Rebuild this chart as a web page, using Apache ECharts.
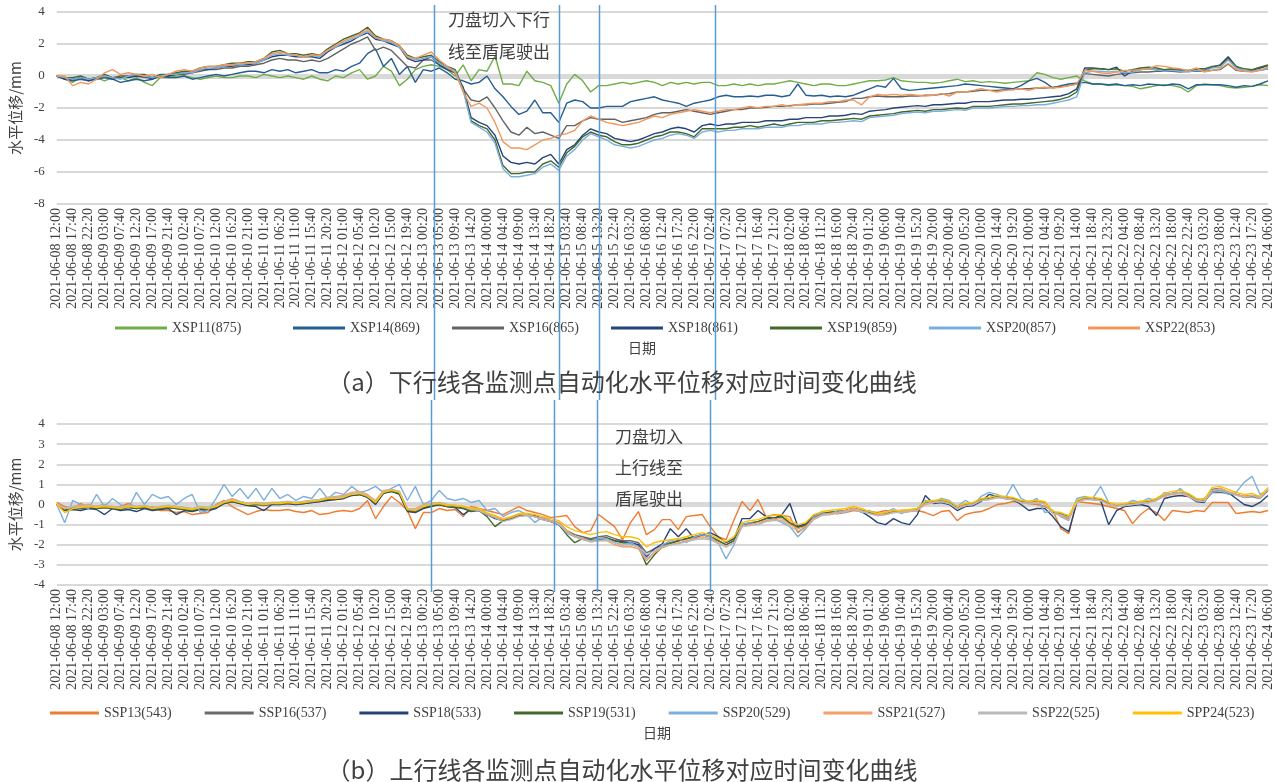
<!DOCTYPE html>
<html>
<head>
<meta charset="utf-8">
<title>水平位移对应时间变化曲线</title>
<script src="https://cdn.jsdelivr.net/npm/echarts@6/dist/echarts.min.js"></script>
<style>
  html, body { margin: 0; padding: 0; background: #fff; }
  #chart { width: 1275px; height: 782px; }
</style>
</head>
<body>
<div id="chart"></div>
<script>
// x labels, one per 14 records; values below are read at half-label steps
var labels = [
  "2021-06-08 12:00", "2021-06-08 17:40", "2021-06-08 22:20", "2021-06-09 03:00", "2021-06-09 07:40",
  "2021-06-09 12:20", "2021-06-09 17:00", "2021-06-09 21:40", "2021-06-10 02:40", "2021-06-10 07:20",
  "2021-06-10 12:00", "2021-06-10 16:20", "2021-06-10 21:00", "2021-06-11 01:40", "2021-06-11 06:20",
  "2021-06-11 11:00", "2021-06-11 15:40", "2021-06-11 20:20", "2021-06-12 01:00", "2021-06-12 05:40",
  "2021-06-12 10:20", "2021-06-12 15:00", "2021-06-12 19:40", "2021-06-13 00:20", "2021-06-13 05:00",
  "2021-06-13 09:40", "2021-06-13 14:20", "2021-06-14 00:00", "2021-06-14 04:40", "2021-06-14 09:00",
  "2021-06-14 13:40", "2021-06-14 18:20", "2021-06-15 03:40", "2021-06-15 08:40", "2021-06-15 13:20",
  "2021-06-15 22:40", "2021-06-16 03:20", "2021-06-16 08:00", "2021-06-16 12:40", "2021-06-16 17:20",
  "2021-06-16 22:00", "2021-06-17 02:40", "2021-06-17 07:20", "2021-06-17 12:00", "2021-06-17 16:40",
  "2021-06-17 21:20", "2021-06-18 02:00", "2021-06-18 06:40", "2021-06-18 11:20", "2021-06-18 16:00",
  "2021-06-18 20:40", "2021-06-19 01:20", "2021-06-19 06:00", "2021-06-19 10:40", "2021-06-19 15:20",
  "2021-06-19 20:00", "2021-06-20 00:40", "2021-06-20 05:20", "2021-06-20 10:00", "2021-06-20 14:40",
  "2021-06-20 19:20", "2021-06-21 00:00", "2021-06-21 04:40", "2021-06-21 09:20", "2021-06-21 14:00",
  "2021-06-21 18:40", "2021-06-21 23:20", "2021-06-22 04:00", "2021-06-22 08:40", "2021-06-22 13:20",
  "2021-06-22 18:00", "2021-06-22 22:40", "2021-06-23 03:20", "2021-06-23 08:00", "2021-06-23 12:40",
  "2021-06-23 17:20", "2021-06-24 06:00"
];
var STEP = 0.5;

// (a) 下行线
var xsp11 = [
  0, -0.2, -0.4, -0.1, -0.2, -0.1, -0.3, -0.1, -0.1, -0.3, -0.1, -0.4, -0.6, -0.1, -0.1, 0, 0,
  -0.1, -0.2, -0.1, 0, -0.1, -0.1, 0, 0, -0.1, 0.1, 0, -0.1, 0, -0.1, -0.2, 0, -0.2, -0.3, 0, -0.1, 0.2, 0.4, -0.2,
  0.0, 0.6, 0.3, -0.6, -0.2, 0.4, 0.6, 0.7,
  0.6, 0.4, 0.0, 0.7, -0.3, 0.4, 0.3, 1.25, -0.5, -0.5,
  -0.6, 0.3, -0.3, -0.4, -0.6, -1.7, -0.5, 0.1, -0.3, -1.0,
  -0.6, -0.6, -0.5, -0.4, -0.5, -0.4, -0.3, -0.4, -0.6, -0.4,
  -0.5, -0.4, -0.5, -0.4, -0.4, -0.6, -0.6, -0.5, -0.6, -0.5,
  -0.6, -0.5, -0.5, -0.4, -0.3, -0.4, -0.5, -0.6, -0.5, -0.5,
  -0.6, -0.6,
  -0.5, -0.4, -0.3, -0.3, -0.25, -0.1, -0.3, -0.35, -0.4, -0.4,
  -0.45, -0.4, -0.3, -0.2, -0.35, -0.3, -0.4, -0.35, -0.4, -0.45,
  -0.4, -0.35, -0.3, 0.2, 0.1, -0.1, -0.2, -0.1, 0.0, -0.3,
  -0.5, -0.5, -0.6, -0.55, -0.6, -0.65, -0.8, -0.7, -0.6, -0.55,
  -0.6, -0.7, -1.0, -0.6, -0.5, -0.55, -0.6, -0.7, -0.75, -0.7,
  -0.65, -0.55, -0.6
];
var xsp14 = [
  0, -0.2, -0.3, -0.2, -0.3, -0.2, -0.1, -0.2, -0.4, -0.3, -0.2, -0.3, -0.2, 0, -0.1, -0.1, 0,
  -0.2, -0.1, 0, 0.1, 0, 0.1, 0.2, 0.3, 0.3, 0.2, 0.4, 0.3, 0.4, 0.2, 0.3, 0.4, 0.2, 0.2, 0.4, 0.3, 0.6, 0.8, 1.4,
  1.7, 0.6, 1.1, 0.1, 0.6, -0.4, 0.4, 0.3,
  0.5, 0.2, -0.2, -0.3, -0.5, -0.4, 0.0, -0.8, -1.3, -1.9,
  -2.4, -2.2, -1.5, -2.3, -2.3, -2.9, -1.7, -1.5, -1.6, -2.0,
  -2.0, -1.9, -1.9, -1.9, -1.6, -1.5, -1.4, -1.3, -1.5, -1.6,
  -1.7, -1.9, -1.7, -1.6, -1.5, -1.3, -1.2, -1.3, -1.3, -1.25,
  -1.3, -1.2, -1.2, -1.3, -1.2, -0.5, -1.2, -1.25, -1.2, -1.3,
  -1.25, -1.3,
  -1.2, -1.0, -0.8, -0.6, -0.7, -0.15, -0.8, -0.9, -0.85, -0.8,
  -0.75, -0.7, -0.65, -0.6, -0.5, -0.55, -0.6, -0.65, -0.7, -0.75,
  -0.8, -0.6, -0.3, -0.15, -0.4, -0.75, -0.6, -0.5, -0.45, -0.4,
  -0.5, -0.5, -0.55, -0.5, -0.6, -0.55, -0.6, -0.5, -0.55, -0.6,
  -0.5, -0.55, -0.8, -0.55, -0.55, -0.55, -0.55, -0.6, -0.7, -0.6,
  -0.65, -0.5, -0.3
];
var xsp16 = [
  0, -0.1, -0.2, -0.1, -0.2, -0.1, -0.1, -0.1, 0, 0, 0, -0.1, -0.1, 0, 0, 0.1, 0.1,
  0.2, 0.3, 0.4, 0.4, 0.5, 0.5, 0.6, 0.6, 0.7, 0.8, 1.0, 1.1, 1.0, 1.0, 0.9, 1.0, 0.9, 1.1, 1.4, 1.7, 2.0, 2.2, 2.45,
  1.6, 1.8, 1.6, 1.1, 0.6, 0.5, 1.0, 1.0,
  0.7, 0.5, 0.2, -0.8, -1.5, -1.6, -1.3, -2.0, -2.8, -3.5,
  -3.7, -3.2, -3.6, -3.5, -3.7, -3.9, -3.1, -3.1, -2.8, -2.6,
  -2.7, -2.7, -2.7, -2.9, -2.8, -2.7, -2.6, -2.4, -2.3, -2.3,
  -2.2, -2.1, -2.2, -2.3, -2.4, -2.3, -2.2, -2.1, -2.1, -2.0,
  -2.0, -1.95, -1.9, -1.9, -1.85, -1.8, -1.8, -1.75, -1.75, -1.7,
  -1.65, -1.6,
  -1.4, -1.4, -1.3, -1.25, -1.3, -1.3, -1.3, -1.25, -1.25, -1.2,
  -1.2, -1.15, -1.1, -1.0, -1.0, -0.95, -0.9, -0.9, -0.9, -0.85,
  -0.85, -0.8, -0.8, -0.75, -0.75, -0.7, -0.65, -0.6, -0.5, 0.15,
  0.1, 0.05, 0.0, 0.1, 0.15, 0.2, 0.25, 0.25, 0.3, 0.3,
  0.3, 0.25, 0.3, 0.3, 0.3, 0.35, 0.4, 0.75, 0.35, 0.3,
  0.3, 0.35, 0.45
];
var xsp18 = [
  0, -0.2, -0.2, -0.1, -0.3, -0.1, 0, -0.2, -0.1, -0.1, 0, 0, -0.2, 0, 0, 0.1, 0.2,
  0.2, 0.4, 0.4, 0.5, 0.6, 0.6, 0.7, 0.7, 0.8, 1.0, 1.2, 1.3, 1.3, 1.2, 1.2, 1.2, 1.1, 1.5, 1.8, 2.0, 2.2, 2.5, 2.7,
  2.3, 2.2, 2.0, 1.8, 1.1, 0.9, 1.0, 1.2,
  0.7, 0.4, 0.2, -0.7, -2.6, -2.9, -3.1, -3.7, -5.0, -5.4,
  -5.5, -5.4, -5.5, -5.1, -4.9, -5.5, -4.6, -4.3, -3.7, -3.3,
  -3.5, -3.6, -3.9, -4.0, -4.1, -4.0, -3.8, -3.6, -3.5, -3.3,
  -3.2, -3.3, -3.5, -3.1, -3.0, -3.1, -3.0, -3.0, -2.9, -2.9,
  -2.9, -2.8, -2.8, -2.8, -2.7, -2.7, -2.6, -2.6, -2.6, -2.5,
  -2.5, -2.45,
  -2.35, -2.4, -2.2, -2.15, -2.1, -2.0, -1.95, -1.9, -1.85, -1.9,
  -1.8, -1.8, -1.75, -1.7, -1.7, -1.6, -1.6, -1.6, -1.55, -1.5,
  -1.5, -1.45, -1.45, -1.4, -1.35, -1.3, -1.25, -1.1, -0.8, 0.5,
  0.5, 0.45, 0.4, 0.55, 0.0, 0.3, 0.4, 0.45, 0.4, 0.35,
  0.4, 0.35, 0.3, 0.4, 0.35, 0.55, 0.7, 1.2, 0.6, 0.3,
  0.35, 0.5, 0.65
];
var xsp19 = [
  0, -0.1, -0.1, 0, -0.2, -0.1, 0.1, -0.1, -0.1, 0, 0.1, 0.1, -0.1, 0.1, 0.1, 0.2, 0.3,
  0.3, 0.5, 0.6, 0.6, 0.7, 0.8, 0.8, 0.9, 0.9, 1.1, 1.5, 1.6, 1.4, 1.4, 1.3, 1.4, 1.3, 1.7, 2.0, 2.3, 2.5, 2.7, 3.05,
  2.5, 2.3, 2.2, 1.9, 1.3, 1.1, 1.2, 1.3,
  0.9, 0.6, 0.4, -0.8, -2.8, -3.1, -3.3, -4.0, -5.6, -6.1,
  -6.1, -6.0, -6.0, -5.5, -5.3, -5.7, -4.8, -4.4, -3.8, -3.5,
  -3.7, -3.8, -4.1, -4.3, -4.3, -4.2, -4.0, -3.8, -3.7, -3.5,
  -3.5, -3.6, -3.8, -3.3, -3.3, -3.3, -3.3, -3.2, -3.2, -3.1,
  -3.2, -3.1, -3.0, -3.1, -3.0, -2.9, -2.9, -2.9, -2.8, -2.8,
  -2.75, -2.7,
  -2.65, -2.7, -2.5, -2.45, -2.4, -2.35, -2.25, -2.2, -2.15, -2.2,
  -2.1, -2.1, -2.05, -2.0, -2.05, -1.9, -1.9, -1.9, -1.85, -1.8,
  -1.75, -1.75, -1.7, -1.65, -1.6, -1.55, -1.45, -1.3, -1.0, 0.35,
  0.45, 0.45, 0.4, 0.45, 0.3, 0.4, 0.5, 0.55, 0.5, 0.4,
  0.45, 0.4, 0.35, 0.45, 0.45, 0.6, 0.65, 1.1, 0.6, 0.45,
  0.4, 0.55, 0.7
];
var xsp20 = [
  0, -0.1, -0.2, -0.1, -0.2, -0.1, 0, -0.1, -0.2, 0, 0.1, 0, -0.1, 0, 0.1, 0.1, 0.2,
  0.2, 0.4, 0.5, 0.5, 0.6, 0.7, 0.7, 0.8, 0.8, 1.0, 1.3, 1.4, 1.3, 1.3, 1.2, 1.3, 1.2, 1.6, 1.8, 2.1, 2.3, 2.5, 2.8,
  2.4, 2.2, 2.1, 1.8, 1.2, 1.0, 1.1, 1.2,
  0.8, 0.5, 0.3, -0.9, -2.9, -3.2, -3.5, -4.2, -5.8, -6.3,
  -6.3, -6.2, -6.1, -5.7, -5.5, -5.9, -5.0, -4.6, -4.0, -3.6,
  -3.8, -4.0, -4.3, -4.4, -4.5, -4.4, -4.2, -4.0, -3.9, -3.7,
  -3.6, -3.7, -3.9, -3.5, -3.4, -3.5, -3.4, -3.4, -3.3, -3.3,
  -3.3, -3.2, -3.2, -3.2, -3.1, -3.1, -3.0, -3.0, -3.0, -2.9,
  -2.9, -2.85,
  -2.8, -2.85, -2.6, -2.55, -2.5, -2.45, -2.35, -2.3, -2.25, -2.3,
  -2.2, -2.2, -2.15, -2.1, -2.15, -2.0, -2.0, -2.0, -1.95, -1.9,
  -1.9, -1.85, -1.85, -1.8, -1.8, -1.7, -1.6, -1.5, -1.3, 0.2,
  0.3, 0.3, 0.25, 0.3, 0.2, 0.25, 0.4, 0.45, 0.4, 0.3,
  0.35, 0.3, 0.25, 0.35, 0.3, 0.5, 0.55, 1.0, 0.5, 0.35,
  0.3, 0.4, 0.45
];
var xsp22 = [
  0, 0, -0.6, -0.4, -0.5, -0.2, 0.2, 0.4, 0.1, 0.2, 0.1, 0, 0.1, -0.1, 0.1, 0.3, 0.4,
  0.3, 0.5, 0.6, 0.6, 0.7, 0.7, 0.8, 0.8, 0.9, 1.1, 1.4, 1.5, 1.4, 1.3, 1.2, 1.3, 1.3, 1.6, 1.9, 2.2, 2.4, 2.6, 2.9,
  2.4, 2.3, 2.2, 1.9, 1.2, 1.1, 1.3, 1.5,
  1.0, 0.6, 0.2, -1.0, -1.9, -1.7, -2.0, -2.9, -4.1, -4.5,
  -4.5, -4.6, -4.3, -4.0, -3.9, -3.7, -3.6, -3.4, -2.8, -2.5,
  -2.7, -2.9, -3.0, -3.1, -3.0, -2.9, -2.7, -2.5, -2.6, -2.4,
  -2.3, -2.2, -2.1, -2.2, -2.3, -2.2, -2.1, -2.1, -2.0, -1.9,
  -2.0, -1.9, -1.9, -1.8, -1.9, -1.8, -1.75, -1.7, -1.7, -1.6,
  -1.6, -1.5,
  -1.5, -1.8, -1.3, -1.15, -1.2, -1.15, -1.2, -1.15, -1.2, -1.25,
  -1.2, -1.1, -1.25, -1.0, -1.0, -0.9, -0.8, -0.9, -1.0, -0.9,
  -0.85, -0.8, -0.9, -0.75, -0.7, -0.75, -0.7, -0.6, -0.5, 0.35,
  0.3, 0.2, 0.15, 0.25, 0.35, 0.35, 0.4, 0.45, 0.65, 0.6,
  0.5, 0.45, 0.3, 0.5, 0.25, 0.35, 0.45, 0.8, 0.4, 0.3,
  0.25, 0.35, 0.55
];

// (b) 上行线
var ssp13 = [
  0.1, -0.1, -0.2, 0.05, -0.15, -0.1, 0.0, -0.2, -0.1, 0.05, -0.15, -0.2, -0.1, -0.3, -0.3, -0.4, -0.35, -0.5, -0.45, -0.4,
  0.0, 0.2, -0.1, -0.3, -0.5, -0.35, -0.25, -0.3, -0.3, -0.25, -0.35, -0.4, -0.3, -0.5, -0.45, -0.35, -0.3, -0.35, -0.2, 0.2,
  -0.7, -0.1, 0.4, 0.1, -0.3, -1.2, -0.4,
  -0.4, -0.2, -0.3, -0.25, -0.6, -0.1, -0.2, -0.3, -0.4, -0.5,
  -0.3, -0.1, -0.3, -0.4, -0.5, -0.65, -0.6, -0.55, -1.1, -1.4,
  -1.3, -0.5, -0.8, -1.1, -1.75, -0.9, -0.35, -1.5, -1.25, -0.75,
  -0.75, -1.25, -0.6, -0.55, -0.5, -1.1, -1.6, -1.75, -0.75, 0.15,
  -0.3, 0.25, -0.6, -0.5, -0.55, -0.6, -1.4, -1.1, -0.6, -0.4,
  -0.4, -0.45, -0.4,
  -0.3, -0.35, -0.35, -0.4, -0.3, -0.35, -0.4, -0.35, -0.3, -0.4,
  -0.55, -0.35, -0.3, -0.8, -0.5, -0.4, -0.35, -0.2, 0.0, 0.05,
  0.15, 0.1, 0.05, 0.0, -0.1, -0.3, -1.2, -1.45, 0.15, 0.1,
  0.05, 0.0, -0.1, -0.2, -0.3, -0.95, -0.5, -0.2, -0.4, -0.8,
  -0.3, -0.35, -0.4, -0.3, -0.35, 0.1, 0.1, 0.1, -0.45, -0.4,
  -0.35, -0.4, -0.3
];
var ssp16 = [
  0, -0.3, -0.2, -0.2, -0.15, -0.2, -0.15, -0.2, -0.25, -0.15, -0.2, -0.15, -0.25, -0.2, -0.15, -0.2, -0.25, -0.3, -0.2, -0.25,
  -0.15, 0.05, 0.15, 0.05, -0.05, 0.0, -0.05, 0.0, 0.05, 0.05, 0.0, 0.05, 0.1, 0.15, 0.25, 0.25, 0.3, 0.45, 0.5, 0.35,
  0.05, 0.55, 0.65, 0.55, -0.3, -0.35, -0.15,
  -0.05, 0.0, -0.1, -0.1, -0.15, -0.25, -0.3, -0.5, -0.6, -0.8,
  -0.7, -0.55, -0.55, -0.6, -0.7, -0.8, -0.9, -1.3, -1.5, -1.6,
  -1.7, -1.6, -1.55, -1.7, -1.8, -1.8, -1.9, -2.4, -2.2, -2.0,
  -1.9, -1.8, -1.7, -1.6, -1.5, -1.6, -1.8, -2.0, -1.8, -1.0,
  -0.9, -0.85, -0.7, -0.65, -0.6, -0.9, -1.1, -1.0, -0.6, -0.45,
  -0.4, -0.35, -0.3,
  -0.2, -0.3, -0.4, -0.5, -0.45, -0.35, -0.35, -0.3, -0.3, 0.1,
  0.15, 0.2, 0.1, -0.15, 0.0, 0.05, 0.25, 0.3, 0.4, 0.35,
  0.3, 0.15, 0.1, 0.15, 0.1, -0.4, -0.5, -0.7, 0.15, 0.3,
  0.3, 0.25, 0.05, -0.05, 0.0, 0.05, 0.1, 0.15, 0.25, 0.45,
  0.55, 0.6, 0.45, 0.2, 0.15, 0.6, 0.6, 0.55, 0.5, 0.35,
  0.4, 0.3, 0.7
];
var ssp18 = [
  0, -0.3, -0.25, -0.3, -0.2, -0.25, -0.5, -0.2, -0.3, -0.25, -0.35, -0.2, -0.3, -0.25, -0.2, -0.5, -0.3, -0.35, -0.25, -0.3,
  -0.2, 0.05, 0.15, 0.05, -0.05, -0.1, -0.3, 0.0, 0.0, 0.05, 0.0, 0.05, 0.1, 0.15, 0.2, 0.25, 0.3, 0.45, 0.5, 0.35,
  0.0, 0.55, 0.65, 0.5, -0.35, -0.4, -0.2,
  -0.1, 0.0, -0.1, -0.15, -0.5, -0.25, -0.3, -0.5, -0.7, -0.8,
  -0.65, -0.5, -0.5, -0.55, -0.7, -0.85, -1.0, -1.4, -1.6, -1.7,
  -1.8, -1.75, -1.7, -1.8, -1.85, -1.9, -2.0, -2.6, -2.2, -1.95,
  -1.2, -1.6, -1.2, -1.7, -1.5, -1.4, -1.6, -1.9, -1.7, -0.7,
  -0.7, -0.3, -0.6, -0.7, -0.5, 0.05, -1.1, -0.95, -0.55, -0.5,
  -0.4, -0.45, -0.35,
  -0.2, -0.35, -0.6, -0.9, -1.0, -0.7, -0.9, -1.0, -0.5, 0.45,
  0.05, 0.1, 0.0, -0.3, -0.1, -0.05, 0.15, 0.5, 0.4, 0.3,
  0.25, 0.0, -0.3, -0.2, -0.2, -0.6, -1.1, -1.35, 0.1, 0.3,
  0.25, 0.2, -1.0, -0.3, -0.1, -0.05, 0.0, -0.1, -0.55, 0.3,
  0.4, 0.45, 0.4, 0.15, 0.1, 0.75, 0.8, 0.6, 0.3, 0.0,
  -0.1, 0.1, 0.45
];
var ssp19 = [
  0, -0.3, -0.2, -0.2, -0.1, -0.2, -0.15, -0.2, -0.2, -0.15, -0.2, -0.15, -0.2, -0.2, -0.15, -0.2, -0.25, -0.3, -0.2, -0.2,
  -0.15, 0.1, 0.15, 0.1, 0.0, 0.0, 0.05, 0.05, 0.0, 0.1, 0.05, 0.05, 0.15, 0.2, 0.25, 0.3, 0.35, 0.5, 0.5, 0.4,
  0.05, 0.6, 0.65, 0.55, -0.3, -0.3, -0.15,
  -0.05, 0.0, -0.1, -0.15, -0.2, -0.35, -0.3, -0.6, -1.1, -0.8,
  -0.7, -0.55, -0.5, -0.6, -0.75, -0.85, -1.0, -1.5, -1.9, -1.7,
  -1.75, -1.7, -1.65, -1.8, -1.9, -1.95, -2.1, -3.0, -2.5, -2.1,
  -1.95, -1.8, -1.7, -1.6, -1.5, -1.6, -1.8, -2.0, -1.8, -1.0,
  -0.95, -0.85, -0.7, -0.7, -0.6, -0.95, -1.15, -1.05, -0.65, -0.45,
  -0.4, -0.35, -0.3,
  -0.2, -0.3, -0.4, -0.5, -0.45, -0.35, -0.3, -0.3, -0.25, 0.1,
  0.15, 0.2, 0.1, -0.15, 0.0, 0.05, 0.25, 0.3, 0.4, 0.35,
  0.3, 0.15, 0.15, 0.15, 0.1, -0.4, -0.45, -0.6, 0.15, 0.3,
  0.3, 0.25, 0.05, -0.05, 0.0, 0.1, 0.15, 0.1, 0.25, 0.45,
  0.55, 0.6, 0.5, 0.25, 0.2, 0.65, 0.7, 0.6, 0.5, 0.4,
  0.45, 0.35, 0.75
];
var ssp20 = [
  0, -0.9, 0.2, 0.0, -0.2, 0.5, -0.1, 0.3, 0.0, -0.2, 0.6, 0.0, 0.5, 0.3, 0.4, 0.0, 0.3, 0.5, -0.4, -0.3,
  0.3, 1.0, 0.4, 0.8, 0.3, 0.8, 0.2, 0.8, 0.3, 0.5, 0.2, 0.4, 0.3, 0.8, 0.3, 0.6, 0.5, 0.9, 0.6, 0.7,
  0.9, 0.6, 0.8, 1.0, 0.2, 0.9, 0.0,
  0.2, 0.7, 0.3, 0.2, 0.3, 0.1, 0.2, -0.3, -0.2, -0.6,
  -0.4, -0.3, -0.5, -0.9, -0.6, -0.8, -1.0, -1.3, -1.6, -1.7,
  -1.8, -1.7, -1.7, -1.9, -2.0, -1.9, -2.1, -2.7, -2.4, -2.0,
  -1.8, -1.7, -1.9, -1.6, -1.5, -1.6, -1.9, -2.7, -2.0, -1.0,
  -0.9, -1.0, -0.8, -0.7, -0.9, -1.1, -1.6, -1.2, -0.6, -0.4,
  -0.5, -0.3, -0.4,
  -0.2, -0.4, -0.3, -0.5, -0.4, -0.2, -0.45, -0.3, -0.2, 0.2,
  0.1, 0.3, 0.2, -0.1, 0.2, 0.0, 0.4, 0.6, 0.5, 0.3,
  1.0, 0.3, 0.1, 0.3, -0.4, -0.3, -0.6, -0.8, 0.3, 0.4,
  0.3, 0.9, 0.1, -0.1, 0.0, 0.2, 0.1, 0.3, 0.2, 0.6,
  0.5, 0.8, 0.4, 0.2, 0.3, 0.6, 0.7, 0.5, 0.6, 1.1,
  1.4, 0.5, 0.7
];
var ssp21 = [
  0.05, -0.2, -0.1, -0.05, 0.0, -0.1, -0.05, -0.1, -0.15, -0.05, -0.1, -0.05, -0.15, -0.1, -0.05, -0.1, -0.15, -0.2, -0.1, -0.15,
  -0.05, 0.15, 0.3, 0.15, 0.05, 0.1, 0.05, 0.1, 0.1, 0.15, 0.1, 0.15, 0.2, 0.25, 0.35, 0.4, 0.45, 0.6, 0.65, 0.5,
  0.2, 0.7, 0.75, 0.65, -0.2, -0.2, 0.0,
  0.05, 0.1, 0.0, -0.05, -0.1, -0.2, -0.25, -0.45, -0.6, -0.75,
  -0.65, -0.5, -0.5, -0.6, -0.7, -0.8, -0.9, -1.3, -1.6, -1.7,
  -1.85, -1.8, -1.8, -2.0, -2.1, -2.1, -2.2, -2.8, -2.4, -2.15,
  -2.0, -1.9, -1.8, -1.7, -1.6, -1.7, -1.9, -2.1, -1.9, -1.1,
  -1.0, -0.9, -0.8, -0.75, -0.7, -1.0, -1.2, -1.1, -0.7, -0.5,
  -0.45, -0.4, -0.3,
  -0.2, -0.3, -0.45, -0.55, -0.5, -0.4, -0.35, -0.3, -0.3, 0.0,
  0.1, 0.15, 0.05, -0.2, -0.05, 0.0, 0.2, 0.25, 0.35, 0.3,
  0.25, 0.1, 0.05, 0.1, 0.05, -0.45, -0.55, -0.75, 0.1, 0.25,
  0.25, 0.2, 0.0, -0.1, -0.05, 0.0, 0.05, 0.1, 0.2, 0.4,
  0.5, 0.55, 0.4, 0.2, 0.15, 0.7, 0.8, 0.65, 0.5, 0.4,
  0.45, 0.35, 0.8
];
var ssp22 = [
  0, -0.2, -0.1, -0.1, -0.05, -0.1, -0.05, -0.1, -0.15, -0.05, -0.1, -0.05, -0.15, -0.1, -0.05, -0.1, -0.15, -0.2, -0.1, -0.15,
  -0.05, 0.15, 0.25, 0.15, 0.05, 0.1, 0.05, 0.1, 0.1, 0.15, 0.1, 0.15, 0.2, 0.25, 0.35, 0.35, 0.4, 0.55, 0.6, 0.45,
  0.15, 0.65, 0.75, 0.65, -0.2, -0.25, -0.05,
  0.05, 0.1, 0.0, -0.05, -0.1, -0.25, -0.3, -0.5, -0.65, -0.85,
  -0.75, -0.6, -0.55, -0.6, -0.75, -0.85, -0.95, -1.4, -1.6, -1.75,
  -1.85, -1.8, -1.75, -1.9, -2.0, -2.0, -2.1, -2.5, -2.3, -2.1,
  -2.0, -1.95, -1.85, -1.75, -1.7, -1.75, -1.95, -2.1, -1.9, -1.1,
  -1.05, -1.0, -0.85, -0.8, -0.8, -1.1, -1.3, -1.2, -0.75, -0.55,
  -0.5, -0.45, -0.35,
  -0.25, -0.35, -0.45, -0.55, -0.5, -0.4, -0.4, -0.35, -0.3, 0.05,
  0.1, 0.15, 0.05, -0.2, -0.05, 0.0, 0.2, 0.25, 0.35, 0.3,
  0.25, 0.1, 0.05, 0.1, 0.05, -0.45, -0.5, -0.65, 0.1, 0.25,
  0.25, 0.2, 0.0, -0.1, -0.05, 0.0, 0.05, 0.1, 0.2, 0.45,
  0.55, 0.6, 0.45, 0.2, 0.15, 0.7, 0.75, 0.6, 0.45, 0.35,
  0.45, 0.3, 0.75
];
var spp24 = [
  0, -0.4, -0.2, -0.15, -0.1, -0.15, -0.1, -0.15, -0.2, -0.1, -0.15, -0.1, -0.2, -0.15, -0.1, -0.15, -0.2, -0.25, -0.15, -0.2,
  -0.1, 0.1, 0.2, 0.1, 0.0, 0.05, 0.0, 0.05, 0.05, 0.1, 0.05, 0.1, 0.15, 0.2, 0.3, 0.3, 0.35, 0.5, 0.55, 0.4,
  0.1, 0.6, 0.7, 0.6, -0.25, -0.3, -0.1,
  0.0, 0.05, -0.05, -0.05, -0.1, -0.2, -0.2, -0.4, -0.55, -0.7,
  -0.6, -0.45, -0.45, -0.5, -0.6, -0.7, -0.8, -1.1, -1.3, -1.4,
  -1.5, -1.4, -1.35, -1.5, -1.6, -1.6, -1.7, -2.1, -1.9, -1.8,
  -1.75, -1.7, -1.6, -1.5, -1.4, -1.5, -1.7, -1.85, -1.6, -0.9,
  -0.8, -0.75, -0.6, -0.55, -0.5, -0.8, -1.0, -0.9, -0.5, -0.35,
  -0.3, -0.25, -0.2,
  -0.1, -0.2, -0.35, -0.45, -0.4, -0.3, -0.3, -0.25, -0.2, 0.15,
  0.2, 0.25, 0.15, -0.1, 0.05, 0.1, 0.3, 0.35, 0.45, 0.4,
  0.35, 0.2, 0.15, 0.2, 0.15, -0.35, -0.4, -0.55, 0.2, 0.35,
  0.35, 0.3, 0.1, 0.0, 0.05, 0.1, 0.15, 0.2, 0.3, 0.55,
  0.65, 0.7, 0.55, 0.3, 0.25, 0.85, 0.9, 0.75, 0.6, 0.5,
  0.55, 0.4, 0.85
];

// positions (in label steps) of the cutter-in / tail-out lines
var cutLinesA = [23.7, 31.5, 34.0, 41.3];
var cutLinesB = [23.5, 31.2, 33.9, 41.0];

var seriesA = [
  ["XSP11(875)", xsp11, "#70ad47"],
  ["XSP14(869)", xsp14, "#255e91"],
  ["XSP16(865)", xsp16, "#636363"],
  ["XSP18(861)", xsp18, "#264478"],
  ["XSP19(859)", xsp19, "#43682b"],
  ["XSP20(857)", xsp20, "#7cafdd"],
  ["XSP22(853)", xsp22, "#f1975a"]
];
var seriesB = [
  ["SSP13(543)", ssp13, "#ed7d31"],
  ["SSP16(537)", ssp16, "#6b6b6b"],
  ["SSP18(533)", ssp18, "#264478"],
  ["SSP19(531)", ssp19, "#43682b"],
  ["SSP20(529)", ssp20, "#7cafdd"],
  ["SSP21(527)", ssp21, "#f4a06a"],
  ["SSP22(525)", ssp22, "#b9b9b9"],
  ["SPP24(523)", spp24, "#ffc000"]
];

var serif = "'Liberation Serif', 'Times New Roman', serif";
var cjk = "'Noto Sans CJK SC', sans-serif";
var textColor = "#404040";

function toPairs(vals) {
  return vals.map(function (v, i) { return [i * STEP, v]; });
}

function makeSeries(list, axisIndex) {
  return list.map(function (s, i) {
    var item = {
      name: s[0],
      type: "line",
      xAxisIndex: axisIndex,
      yAxisIndex: axisIndex,
      data: toPairs(s[1]),
      symbol: "none",
      z: 2,
      lineStyle: { width: 1.4, color: s[2] },
      itemStyle: { color: s[2] }
    };
    if (i === 0) {
      // the grey zero band
      item.markLine = {
        silent: true,
        symbol: "none",
        z: 1,
        label: { show: false },
        lineStyle: { color: "#d9d9d9", width: 5, type: "solid" },
        data: [{ yAxis: 0 }]
      };
    }
    return item;
  });
}

function xAxisFor(gridIndex) {
  return {
    type: "value",
    gridIndex: gridIndex,
    min: 0,
    max: labels.length - 1,
    interval: 1,
    axisLine: { show: false },
    axisTick: { show: false },
    splitLine: { show: false },
    axisLabel: {
      rotate: 90,
      margin: 4,
      fontFamily: serif,
      fontSize: 14,
      color: textColor,
      formatter: function (v) { return labels[Math.round(v)] || ""; }
    }
  };
}

function yAxisFor(gridIndex, min, max, step) {
  return {
    type: "value",
    gridIndex: gridIndex,
    min: min,
    max: max,
    interval: step,
    name: "水平位移/mm",
    nameLocation: "middle",
    nameGap: 33,
    nameTextStyle: { fontFamily: cjk, fontSize: 15, color: textColor },
    axisLine: { show: false },
    axisTick: { show: false },
    axisLabel: { fontFamily: serif, fontSize: 13, color: textColor, margin: 12 },
    splitLine: { lineStyle: { color: "#d9d9d9", width: 2 } }
  };
}

var legendText = { fontFamily: serif, fontSize: 14, color: textColor };

var myChart = echarts.init(document.getElementById("chart"));
var option = {
  animation: false,
  backgroundColor: "#fff",
  grid: [
    { left: 50, top: 12, width: 1218, height: 192 },
    { left: 50, top: 424, width: 1218, height: 161 }
  ],
  xAxis: [xAxisFor(0), xAxisFor(1)],
  yAxis: [yAxisFor(0, -8, 4, 2), yAxisFor(1, -4, 4, 1)],
  legend: [
    {
      left: 110, top: 316, icon: "rect", itemWidth: 52, itemHeight: 3,
      textStyle: legendText,
      data: [seriesA[0][0]]
    },
    {
      left: 288, top: 316, icon: "rect", itemWidth: 52, itemHeight: 3, itemGap: 32,
      textStyle: legendText,
      data: seriesA.slice(1).map(function (s) { return s[0]; })
    },
    {
      left: 45, top: 701, icon: "rect", itemWidth: 49, itemHeight: 3, itemGap: 33,
      textStyle: legendText,
      data: seriesB.map(function (s) { return s[0]; })
    }
  ],
  series: makeSeries(seriesA, 0).concat(makeSeries(seriesB, 1))
};
myChart.setOption(option);

// vertical marker lines through the plot and label area, plus the texts
function vLine(x, y1, y2) {
  return {
    type: "line",
    silent: true,
    z: 10,
    shape: { x1: x, y1: y1, x2: x, y2: y2 },
    style: { stroke: "#5b9bd5", lineWidth: 1.5 }
  };
}
function txt(text, x, y, size, align) {
  return {
    type: "text",
    silent: true,
    z: 11,
    x: x,
    y: y,
    style: {
      text: text,
      fill: textColor,
      font: size + "px " + cjk,
      align: align || "center",
      verticalAlign: "middle"
    }
  };
}

var graphics = [];
cutLinesA.forEach(function (v) {
  var px = Math.round(myChart.convertToPixel({ xAxisIndex: 0 }, v)) + 0.5;
  graphics.push(vLine(px, 5, 400));
});
cutLinesB.forEach(function (v) {
  var px = Math.round(myChart.convertToPixel({ xAxisIndex: 1 }, v)) + 0.5;
  graphics.push(vLine(px, 400, 592));
});
graphics.push(txt("刀盘切入下行", 448, 20, 17, "left"));
graphics.push(txt("线至盾尾驶出", 448, 52, 17, "left"));
graphics.push(txt("刀盘切入", 615, 437, 17, "left"));
graphics.push(txt("上行线至", 615, 468, 17, "left"));
graphics.push(txt("盾尾驶出", 615, 499, 17, "left"));
graphics.push(txt("日期", 642, 348, 14));
graphics.push(txt("日期", 657, 733, 14));
graphics.push(txt("（a）下行线各监测点自动化水平位移对应时间变化曲线", 622, 382, 24));
graphics.push(txt("（b）上行线各监测点自动化水平位移对应时间变化曲线", 622, 770, 24));

myChart.setOption({ graphic: graphics });

window.addEventListener("resize", function () {
  myChart.resize();
});
</script>
</body>
</html>
